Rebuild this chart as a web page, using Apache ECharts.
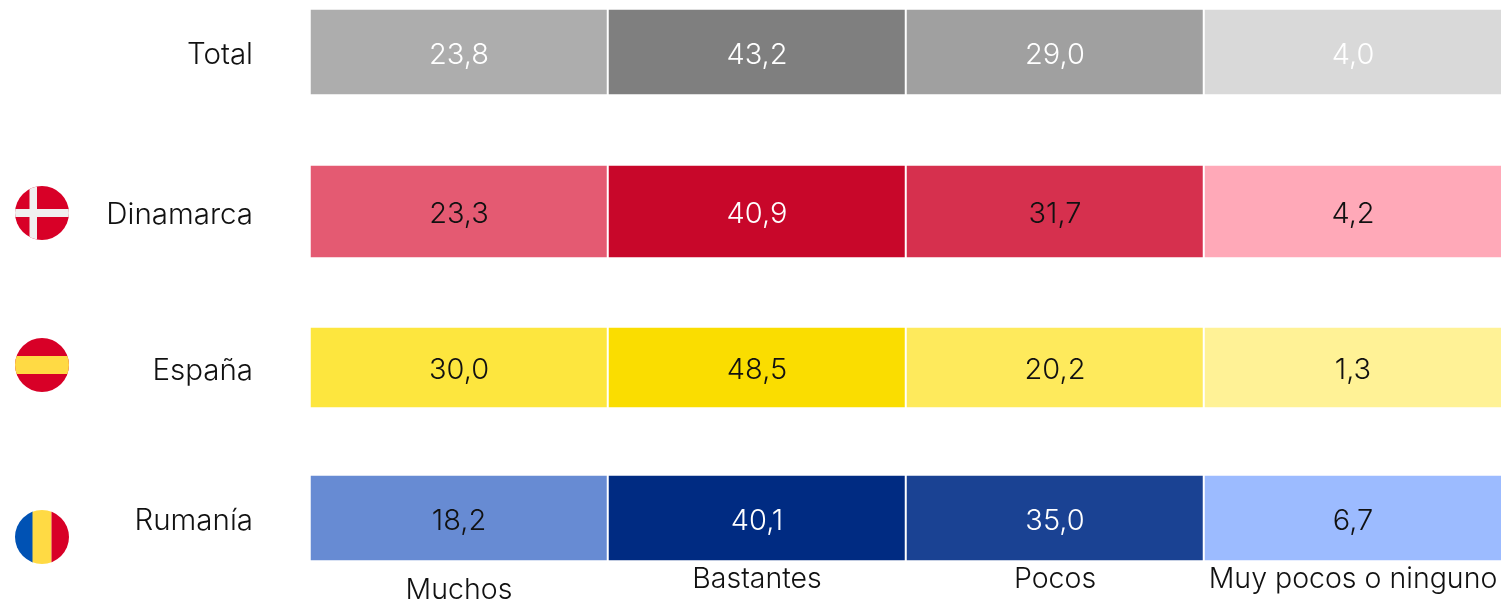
<!DOCTYPE html>
<html><head><meta charset="utf-8">
<style>html,body{margin:0;padding:0;background:#fff}#c{width:1501px;height:603px}</style>
<script src="https://cdn.jsdelivr.net/npm/echarts@6/dist/echarts.min.js"></script>
</head><body><div id="c"></div>
<script>
const categories = ['Muchos','Bastantes','Pocos','Muy pocos o ninguno'];
const countries = ['Total','Dinamarca','España','Rumanía'];
const total = [23.8,43.2,29.0,4.0];
const dinamarca = [23.3,40.9,31.7,4.2];
const espana = [30.0,48.5,20.2,1.3];
const rumania = [18.2,40.1,35.0,6.7];
const rows = [total,dinamarca,espana,rumania];

const rowColors = [
  ['#ADADAD','#7F7F7F','#A0A0A0','#D9D9D9'],
  ['#E45A72','#C8072A','#D6304E','#FFA9B8'],
  ['#FDE63E','#FADD00','#FEEA5C','#FFF296'],
  ['#678BD3','#002B82','#1A4293','#9CBBFF']
];
const labelColors = [
  ['#fff','#fff','#fff','#fff'],
  ['#111','#fff','#111','#111'],
  ['#111','#111','#111','#111'],
  ['#111','#fff','#fff','#111']
];
const rowBands = [[9,86],[165,93],[327,81],[475,86]];
const font = 'Inter';
const fw = 300;

function svgFlag(body){
  const s = '<svg xmlns="http://www.w3.org/2000/svg" width="54" height="54" viewBox="0 0 54 54"><defs><clipPath id="k"><circle cx="27" cy="27" r="27"/></clipPath></defs><g clip-path="url(#k)">'+body+'</g></svg>';
  return 'data:image/svg+xml;charset=utf-8,'+encodeURIComponent(s);
}
const flags = [
  {x:15,y:186,img:svgFlag('<rect width="54" height="54" fill="#D80027"/><rect x="14.5" width="7.5" height="54" fill="#F0F0F0"/><rect y="23" width="54" height="8" fill="#F0F0F0"/>')},
  {x:15,y:338,img:svgFlag('<rect width="54" height="54" fill="#D80027"/><rect y="18" width="54" height="18" fill="#FFDA44"/>')},
  {x:15,y:510,img:svgFlag('<rect width="18" height="54" fill="#0052B4"/><rect x="17.5" width="19" height="54" fill="#FFDA44"/><rect x="36.5" width="18" height="54" fill="#D80027"/>')}
];

const grids=[],xAxes=[],yAxes=[],series=[];
const labelStyle = s => ({color:'#111',fontFamily:font,fontSize:s,fontWeight:fw});
rows.forEach((vals,r)=>{
  grids.push({left:310,width:1192,top:rowBands[r][0],height:rowBands[r][1],outerBoundsMode:'none'});
  const last = r===rows.length-1;
  xAxes.push({type:'category',gridIndex:r,data:categories,show:last,
    axisLine:{show:false},axisTick:{show:false},splitLine:{show:false},
    axisLabel:Object.assign(labelStyle(28.5),{show:last,interval:0,margin:4,
      formatter:v=>v==='Muchos'?'{low|'+v+'}':v,
      rich:{low:Object.assign(labelStyle(28.5),{padding:[11,0,0,0]})}})});
  yAxes.push({type:'category',gridIndex:r,data:[countries[r]],
    axisLine:{show:false},axisTick:{show:false},splitLine:{show:false},
    axisLabel:Object.assign(labelStyle(29.5),{margin:57,
      formatter:v=>'{n|'+v+'}',
      rich:{n:Object.assign(labelStyle(29.5),{padding:[7,0,0,0]})}})});
  series.push({type:'heatmap',xAxisIndex:r,yAxisIndex:r,
    data:vals.map((v,c)=>({value:[c,0,v],itemStyle:{color:rowColors[r][c]},label:{color:labelColors[r][c]}})),
    itemStyle:{borderColor:'#fff',borderWidth:2},
    label:{show:true,fontFamily:font,fontSize:29,fontWeight:fw,offset:[0,3],formatter:p=>p.value[2].toFixed(1).replace('.',',')},
    emphasis:{disabled:true}});
});

const chart = echarts.init(document.getElementById('c'));
chart.setOption({animation:false,backgroundColor:'#fff',tooltip:{show:false},
  grid:grids,xAxis:xAxes,yAxis:yAxes,series,
  graphic:flags.map(f=>({type:'image',left:f.x,top:f.y,style:{image:f.img,width:54,height:54}}))});
</script></body></html>
